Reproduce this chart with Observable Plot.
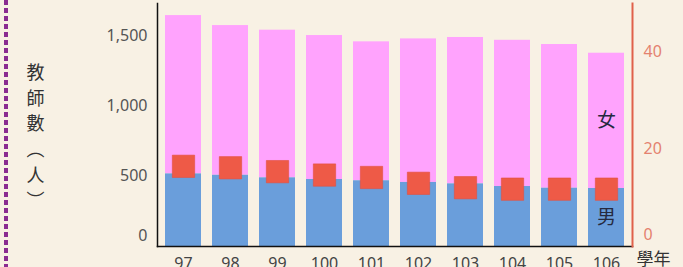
<!DOCTYPE html>
<html>
<head>
<meta charset="utf-8">
<script src="https://cdn.jsdelivr.net/npm/d3@7"></script>
<script src="https://cdn.jsdelivr.net/npm/@observablehq/plot@0.6"></script>
<style>
  html, body { margin: 0; padding: 0; background: #f8f1e4; }
  #wrap { position: relative; width: 683px; height: 267px; overflow: hidden; background: #f8f1e4; }
  #dash { position: absolute; left: 4px; top: 0; width: 3.5px; height: 267px;
    background: repeating-linear-gradient(to bottom, #8b2c91 0 5px, transparent 5px 8px); }
</style>
</head>
<body>
<div id="wrap"><div id="dash"></div></div>
<script>
const years = ["97","98","99","100","101","102","103","104","105","106"];
const totalTeachers = [1644,1573,1540,1502,1457,1478,1488,1468,1438,1376];
const maleTeachers = [517,507,489,477,468,456,446,427,415,413];
const ratioValues = [16.5,16.2,15.4,14.7,14.2,13.0,12.1,11.8,11.8,11.8];
const leftTicks = [0,500,1000,1500];
const rightTicks = [0,20,40];
const yLabel = "教\n師\n數\n︵\n人\n︶";
const xLabel = "學年";
const femaleLabel = "女";
const maleLabel = "男";

const leftMax = 1730, rightMax = 50;
const k = leftMax / rightMax;

const data = years.map((y, i) => ({
  year: y, total: totalTeachers[i], male: maleTeachers[i], ratio: ratioValues[i]
}));
const last = data[data.length - 1];

const font = "'Noto Sans', 'Noto Sans CJK TC', sans-serif";

const chart = Plot.plot({
  width: 683, height: 267,
  marginLeft: 157, marginRight: 51, marginTop: 3, marginBottom: 21,
  style: { background: "transparent", fontFamily: font, overflow: "visible" },
  x: { domain: years, paddingInner: 0.24, paddingOuter: 0.12, axis: null },
  y: { domain: [0, leftMax], axis: null },
  marks: [
    Plot.barY(data, { x: "year", y1: "male", y2: "total", fill: "#ffa3fd" }),
    Plot.barY(data, { x: "year", y1: 0, y2: "male", fill: "#6a9edb" }),
    Plot.dot(data, { x: "year", y: d => d.ratio * k, symbol: "square", r: 12.6, fill: "#ee5a47", stroke: "#e2503f", strokeWidth: 0.6 }),
    Plot.text([femaleLabel], { x: () => last.year, y: () => (last.male + last.total) / 2, fontSize: 19, fill: "#262a40", fontFamily: "'Noto Sans CJK TC'" }),
    Plot.text([maleLabel], { x: () => last.year, y: () => last.male / 2, fontSize: 19, fill: "#262a40", fontFamily: "'Noto Sans CJK TC'" }),
    // left axis
    Plot.axisY(leftTicks.filter(t => t > 0), { anchor: "left", tickSize: 0, tickPadding: 10, fontSize: 16, fill: "#555", tickFormat: d3.format(",") , label: null}),
    Plot.axisY([0], { anchor: "left", tickSize: 0, tickPadding: 10, fontSize: 16, fill: "#555", dy: -11, label: null }),
    // right axis
    Plot.axisY(rightTicks.filter(t => t > 0).map(t => t * k), { anchor: "right", tickSize: 0, tickPadding: 11, fontSize: 16, fill: "#e4826f", tickFormat: d => Math.round(d / k), label: null }),
    Plot.axisY([0], { anchor: "right", tickSize: 0, tickPadding: 11, fontSize: 16, fill: "#e4826f", dy: -12, tickFormat: d => 0, label: null }),
    // x axis
    Plot.axisX({ anchor: "bottom", tickSize: 0, tickPadding: 11, fontSize: 16, fill: "#444", label: null }),
    Plot.frame({ anchor: "left", stroke: "#111", strokeWidth: 1.5 }),
    Plot.frame({ anchor: "bottom", stroke: "#111", strokeWidth: 1.5 }),
    Plot.frame({ anchor: "right", stroke: "#e0604a", strokeWidth: 2 }),
    Plot.text([xLabel], { frameAnchor: "bottom-right", dx: 4, dy: 6, textAnchor: "start", lineAnchor: "top", fontSize: 17, fill: "#333", fontFamily: "'Noto Sans CJK TC'" }),
    Plot.text([yLabel], { frameAnchor: "left", dx: -122, dy: 10, textAnchor: "middle", lineAnchor: "middle", lineHeight: 1.42, fontSize: 18, fill: "#333", fontFamily: "'Noto Sans CJK TC'" })
  ]
});
document.getElementById("wrap").appendChild(chart);
chart.style.position = "absolute";
chart.style.left = "0";
chart.style.top = "0";
</script>
</body>
</html>
